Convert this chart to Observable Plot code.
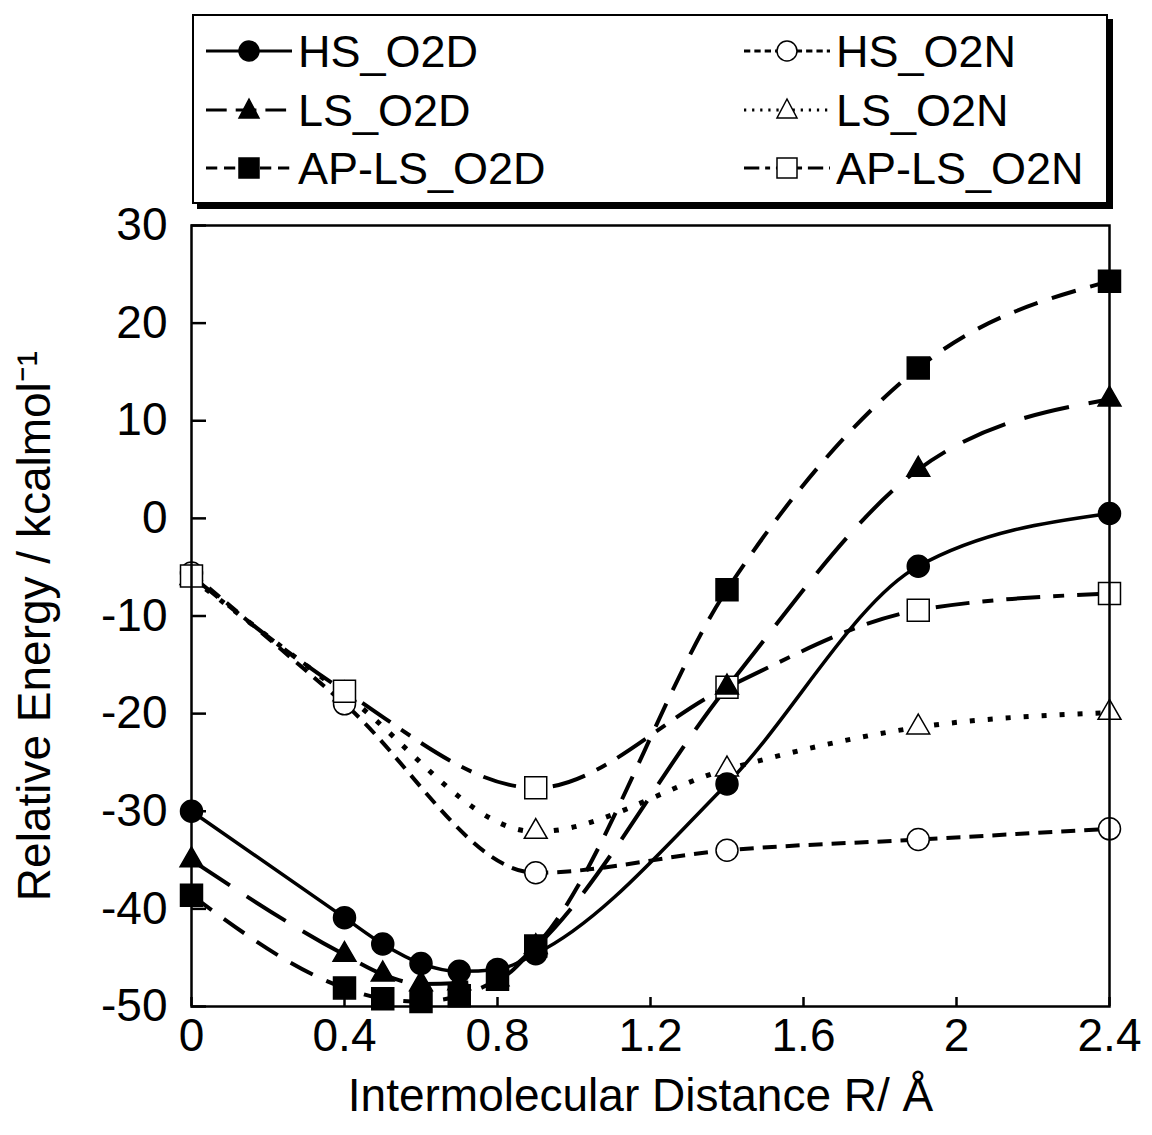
<!DOCTYPE html>
<html><head><meta charset="utf-8">
<script src="https://cdn.jsdelivr.net/npm/d3@7"></script>
<script src="https://cdn.jsdelivr.net/npm/@observablehq/plot@0.6"></script>
<style>
body{margin:0;background:#fff;font-family:"Liberation Sans",Arial,sans-serif;}
#wrap{position:relative;width:1152px;height:1135px;overflow:hidden;background:#fff;}
#legend{position:absolute;left:192px;top:14px;width:912px;height:186px;border:2px solid #000;box-shadow:5px 5px 0 #000;background:#fff;z-index:2;}
.item{position:absolute;display:flex;align-items:center;font-size:45px;line-height:1;color:#000;height:50px;}
.item svg{margin-right:4px;}
#chart{position:absolute;left:0;top:195px;z-index:1;}
#chart svg{background:transparent !important;overflow:visible;}
</style></head><body>
<div id="wrap"><div id="legend"></div><div id="chart"></div></div>
<script>
// ---- data ----
const xO2D = [0, 0.4, 0.5, 0.6, 0.7, 0.8, 0.9, 1.4, 1.9, 2.4];
const HS_O2D = [-30.0, -40.9, -43.6, -45.6, -46.4, -46.2, -44.6, -27.2, -4.9, 0.5];
const LS_O2D = [-35.0, -44.7, -46.7, -47.7, -47.6, -47.2, -43.9, -17.3, 5.0, 12.2];
const AP_LS_O2D = [-38.6, -48.1, -49.2, -49.5, -48.9, -47.2, -43.8, -7.3, 15.4, 24.3];

const xO2N = [0, 0.4, 0.9, 1.4, 1.9, 2.4];
const HS_O2N = [-5.6, -19.0, -36.3, -34.0, -32.9, -31.8];
const LS_O2N = [-6.1, -18.0, -32.1, -25.7, -21.4, -19.9];
const AP_LS_O2N = [-5.9, -17.7, -27.6, -17.3, -9.4, -7.7];

const xTicks = [0, 0.4, 0.8, 1.2, 1.6, 2, 2.4];
const yTicks = [-50, -40, -30, -20, -10, 0, 10, 20, 30];
const xLabel = "Intermolecular Distance R/ Å";
const yLabel = "Relative Energy / kcalmol⁻¹";

// ---- series styles ----
const series = [
  {name: "HS_O2D", x: xO2D, y: HS_O2D, symbol: "circle", filled: true, dash: null, sw: 3.5, r: 11},
  {name: "LS_O2D", x: xO2D, y: LS_O2D, symbol: "triangle", filled: true, dash: "46,20", sw: 4, r: 8.5},
  {name: "AP-LS_O2D", x: xO2D, y: AP_LS_O2D, symbol: "square", filled: true, dash: "25,15", sw: 4, r: 12.4},
  {name: "HS_O2N", x: xO2N, y: HS_O2N, symbol: "circle", filled: false, dash: "14,9", sw: 4, r: 11},
  {name: "LS_O2N", x: xO2N, y: LS_O2N, symbol: "triangle", filled: false, dash: "5,13", sw: 5, r: 8.5},
  {name: "AP-LS_O2N", x: xO2N, y: AP_LS_O2N, symbol: "square", filled: false, dash: "34,13,11,13", sw: 4, r: 12.4}
];

// ---- legend ----
const legend = document.getElementById("legend");
const legendOrder = [0, 3, 1, 4, 2, 5];
const rowTop = [10, 69, 127];
legendOrder.forEach((si, k) => {
  const s = series[si];
  const col = k % 2, row = Math.floor(k / 2);
  const div = document.createElement("div");
  div.className = "item";
  div.style.left = (col === 0 ? 12 : 550) + "px";
  div.style.top = rowTop[row] + "px";
  const ns = "http://www.w3.org/2000/svg";
  const svg = document.createElementNS(ns, "svg");
  svg.setAttribute("width", 88); svg.setAttribute("height", 40);
  const line = document.createElementNS(ns, "line");
  line.setAttribute("x1", 0); line.setAttribute("x2", 86);
  line.setAttribute("y1", 20); line.setAttribute("y2", 20);
  line.setAttribute("stroke", "black");
  line.setAttribute("stroke-width", 3);
  if (s.dash) line.setAttribute("stroke-dasharray", s.dash.split(",").map(v => v * 0.45).join(","));
  svg.appendChild(line);
  let m;
  if (s.symbol === "circle") {
    m = document.createElementNS(ns, "circle");
    m.setAttribute("cx", 43); m.setAttribute("cy", 20); m.setAttribute("r", 10);
  } else if (s.symbol === "square") {
    m = document.createElementNS(ns, "rect");
    m.setAttribute("x", 33); m.setAttribute("y", 10); m.setAttribute("width", 20); m.setAttribute("height", 20);
  } else {
    m = document.createElementNS(ns, "polygon");
    m.setAttribute("points", "43,9 53,28 33,28");
  }
  m.setAttribute("fill", s.filled ? "black" : "white");
  m.setAttribute("stroke", "black");
  m.setAttribute("stroke-width", 1.5);
  svg.appendChild(m);
  div.appendChild(svg);
  const span = document.createElement("span");
  span.textContent = s.name;
  div.appendChild(span);
  legend.appendChild(div);
});

// ---- chart ----
const marks = [];
for (const s of series) {
  const data = s.x.map((x, i) => ({x, y: s.y[i]}));
  marks.push(Plot.line(data, {x: "x", y: "y", curve: "monotone-x", stroke: "black",
    strokeWidth: s.sw, strokeDasharray: s.dash || undefined, strokeLinecap: "butt"}));
}
for (const s of [...series].sort((a, b) => a.filled - b.filled)) {
  const data = s.x.map((x, i) => ({x, y: s.y[i]}));
  marks.push(Plot.dot(data, {x: "x", y: "y", symbol: () => s.symbol, r: s.r,
    fill: s.filled ? "black" : "white", stroke: "black", strokeWidth: 1.5}));
}

const chart = Plot.plot({
  width: 1152, height: 940,
  marginTop: 30, marginBottom: 129, marginLeft: 191, marginRight: 43,
  x: {domain: [0, 2.4]},
  y: {domain: [-50, 30]},
  symbol: {type: "identity"},
  style: {fontFamily: "'Liberation Sans', Arial, sans-serif", fontSize: "46px", color: "black", background: "transparent", overflow: "visible"},
  marks: [
    Plot.axisY(yTicks, {tickSize: -15, fill: "none", strokeWidth: 2.5, label: null}),
    Plot.axisY(yTicks, {tickSize: 0, tickPadding: 24, label: null, fontSize: 46, tickFormat: d => String(d)}),
    Plot.axisX(xTicks, {tickSize: -9, fill: "none", strokeWidth: 2.5, label: null}),
    Plot.axisX(xTicks, {tickSize: 0, tickPadding: 12, label: null, fontSize: 46, tickFormat: d => String(d)}),
    ...marks,
    Plot.frame({stroke: "black", strokeWidth: 2.5}),
    Plot.text([xLabel], {text: d => d, frameAnchor: "bottom", textAnchor: "middle", dx: -10, dy: 104, fontSize: 46}),
    Plot.text([yLabel], {text: d => d, frameAnchor: "left", textAnchor: "middle", dx: -156, dy: 10, rotate: -90, fontSize: 46})
  ]
});
document.getElementById("chart").appendChild(chart);
</script>
</body></html>
